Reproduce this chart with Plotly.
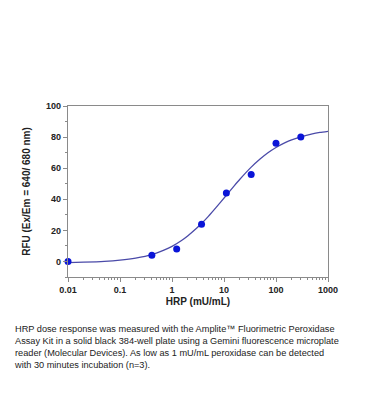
import plotly.graph_objects as go

# Measured data (HRP concentration in mU/mL, RFU)
hrp_conc = [0.01, 0.41, 1.23, 3.7, 11.1, 33.3, 100, 300]
rfu = [0, 4, 8, 24, 44, 56, 76, 80]

# Fitted curve
curve_x = [0.01, 0.02, 0.05, 0.1, 0.2, 0.41, 0.7, 1, 1.5, 2, 3, 3.7, 5, 7, 11, 15, 20,
           33, 50, 70, 100, 150, 200, 300, 500, 700, 1000]
curve_y = [-0.7, -0.45, 0.1, 0.9, 2.2, 4.4, 7.3, 9.7, 13.3, 16.4, 21.5, 24.4, 29.0, 34.6,
           42.4, 47.8, 52.7, 60.5, 66.0, 69.9, 73.3, 76.4, 78.2, 80.2, 82.1, 83.0, 83.7]

x_ticks = [0.01, 0.1, 1, 10, 100, 1000]
x_ticklabels = ["0.01", "0.1", "1", "10", "100", "1000"]
y_ticks = [0, 20, 40, 60, 80, 100]

caption = ("HRP dose response was measured with the Amplite\u2122 Fluorimetric Peroxidase<br>"
           "Assay Kit in a solid black 384-well plate using a Gemini fluorescence microplate<br>"
           "reader (Molecular Devices). As low as 1 mU/mL peroxidase can be detected<br>"
           "with 30 minutes incubation (n=3).")

FONT = "Liberation Sans, Arial, sans-serif"

fig = go.Figure()
fig.add_trace(go.Scatter(x=curve_x, y=curve_y, mode="lines",
                         line=dict(color="#4a4aa8", width=1.3, shape="spline", smoothing=0.6),
                         hoverinfo="skip", showlegend=False))
fig.add_trace(go.Scatter(x=hrp_conc, y=rfu, mode="markers",
                         marker=dict(color="#0a14d8", size=7),
                         showlegend=False, cliponaxis=False))

axis_common = dict(showline=True, linecolor="#8a8a8a", linewidth=1.2, mirror=True,
                   ticks="outside", ticklen=4, tickcolor="#8a8a8a", showgrid=False,
                   zeroline=False, automargin=False,
                   tickfont=dict(family=FONT, size=9, color="#222", weight="bold"))

fig.update_xaxes(type="log", range=[-2, 3], tickvals=x_ticks, ticktext=x_ticklabels,
                 minor=dict(ticks="outside", ticklen=2, tickcolor="#8a8a8a", dtick="D1"),
                 title=dict(text="HRP (mU/mL)", standoff=4,
                            font=dict(family=FONT, size=10, color="#222", weight="bold")),
                 **axis_common)
fig.update_yaxes(range=[-10, 100], tickvals=y_ticks,
                 minor=dict(ticks="outside", ticklen=2, tickcolor="#8a8a8a", dtick=10, tick0=0),
                 title=dict(text="RFU (Ex/Em = 640/ 680 nm)", standoff=13,
                            font=dict(family=FONT, size=10, color="#222", weight="bold")),
                 **axis_common)

fig.add_annotation(text=caption, xref="paper", yref="paper", x=-0.214,
                   y=-0.262, xanchor="left", yanchor="top", align="left", showarrow=False,
                   font=dict(family=FONT, size=9.2, color="#222"))

fig.update_layout(width=370, height=420, margin=dict(l=60, r=50, t=98, b=151),
                  paper_bgcolor="white", plot_bgcolor="white")

fig.write_html("out.html")
